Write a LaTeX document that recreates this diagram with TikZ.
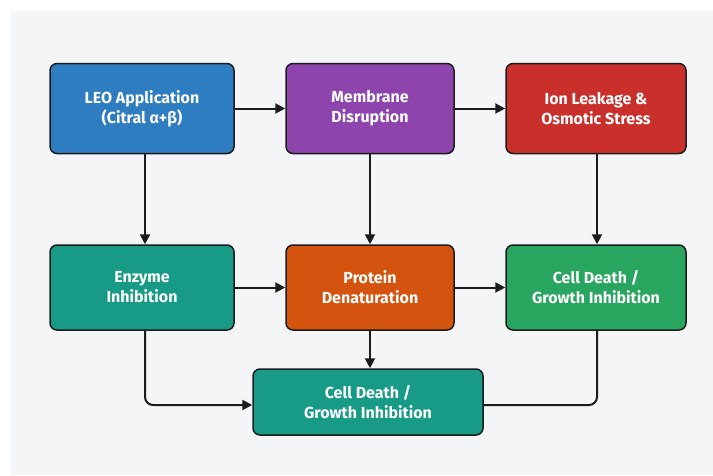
\documentclass[tikz,border=0pt]{standalone}
\usepackage{fontspec}
\setsansfont{Fira Sans}
\usetikzlibrary{arrows.meta}
\definecolor{bgray}{HTML}{F4F5F6}
\definecolor{cblue}{HTML}{2E7DC0}
\definecolor{cpurple}{HTML}{8E44AD}
\definecolor{cred}{HTML}{C9302C}
\definecolor{cteal}{HTML}{179A86}
\definecolor{corange}{HTML}{D4540F}
\definecolor{cgreen}{HTML}{28A55E}
\definecolor{cline}{HTML}{1C1C1C}
\begin{document}
\begin{tikzpicture}[x=1pt,y=-1pt,
  box/.style={draw=cline, line width=1.5pt, rounded corners=7pt, text=white,
    font=\sffamily\bfseries\fontsize{16}{20}\selectfont, align=center, inner sep=0pt},
  conn/.style={draw=cline, line width=2pt, -{Triangle[length=10pt,width=10pt]}},
  plain/.style={draw=cline, line width=2pt},
]
\fill[white] (0,0) rectangle (713,475);
\fill[bgray] (11,11) rectangle (713,475);
\useasboundingbox (0,0) rectangle (713,475);

\node[box, fill=cblue, minimum width=184pt, minimum height=90pt] (leo) at (142,108.5) {LEO Application\\(Citral α+β)};
\node[box, fill=cpurple, minimum width=168pt, minimum height=90pt] (mem) at (370,108.5) {Membrane\\Disruption};
\node[box, fill=cred, minimum width=180pt, minimum height=90pt] (ion) at (596,108.5) {Ion Leakage \&\\Osmotic Stress};

\node[box, fill=cteal, minimum width=184pt, minimum height=85pt] (enz) at (142,287.5) {Enzyme\\Inhibition};
\node[box, fill=corange, minimum width=168pt, minimum height=85pt] (pro) at (370,287.5) {Protein\\Denaturation};
\node[box, fill=cgreen, minimum width=180pt, minimum height=85pt] (cd1) at (596,287.5) {Cell Death /\\Growth Inhibition};

\node[box, fill=cteal, minimum width=230pt, minimum height=66pt] (cd2) at (368,402) {Cell Death /\\Growth Inhibition};

\draw[conn] (leo.east) -- (mem.west);
\draw[conn] (mem.east) -- (ion.west);
\draw[conn] (enz.east) -- (pro.west);
\draw[conn] (pro.east) -- (cd1.west);

\draw[conn] ([xshift=3pt]leo.south) -- ([xshift=3pt]enz.north);
\draw[conn] (mem.south) -- (pro.north);
\draw[conn] ([xshift=1pt]ion.south) -- ([xshift=1pt]cd1.north);
\draw[conn] (pro.south) -- (pro.south |- cd2.north);

\draw[conn, rounded corners=8pt] ([xshift=3pt]enz.south) |- ([yshift=-3pt]cd2.west);
\draw[plain, rounded corners=8pt] ([xshift=1pt]cd1.south) |- ([yshift=-3pt]cd2.east);
\end{tikzpicture}
\end{document}
